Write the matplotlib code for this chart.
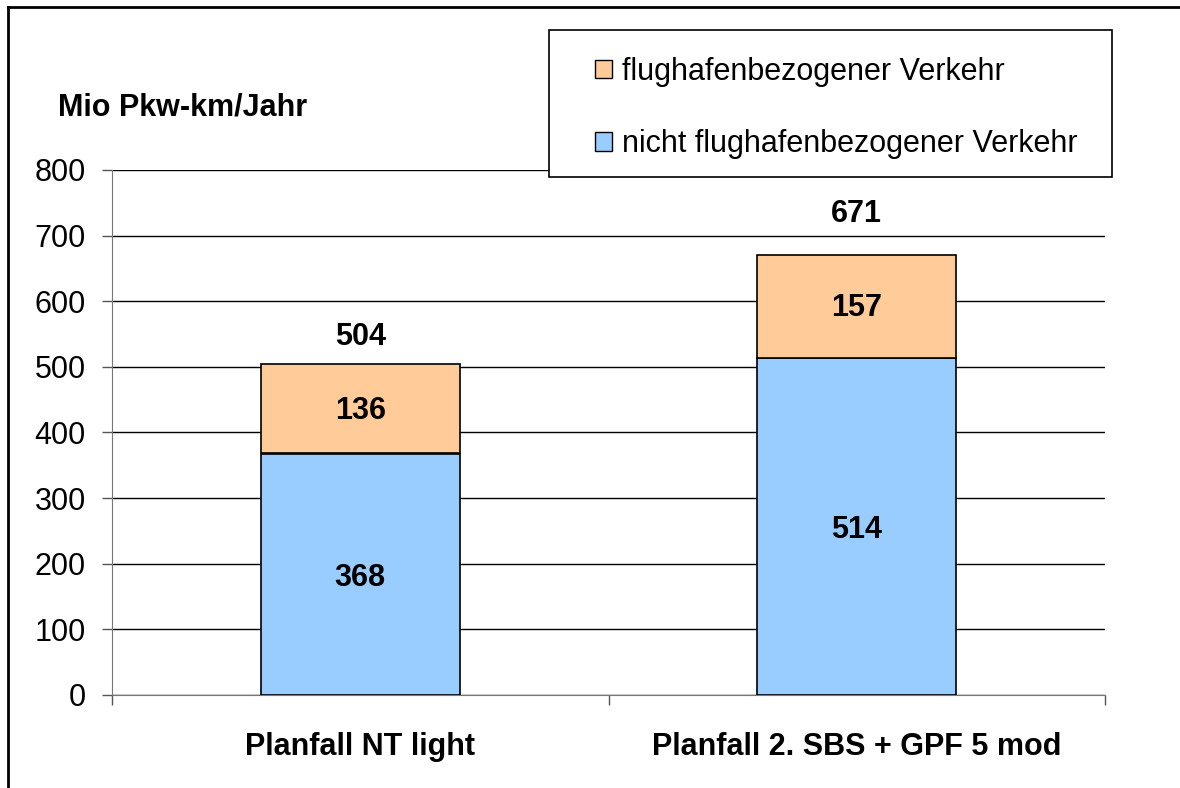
import matplotlib.pyplot as plt
from matplotlib.patches import Rectangle
from matplotlib.lines import Line2D

plt.rcParams['font.family'] = ['Liberation Sans', 'DejaVu Sans']

categories = ['Planfall NT light', 'Planfall 2. SBS + GPF 5 mod']
nicht_flughafen = [368, 514]
flughafen = [136, 157]
totals = [504, 671]
series_names = ['flughafenbezogener Verkehr', 'nicht flughafenbezogener Verkehr']
yticks = [0, 100, 200, 300, 400, 500, 600, 700, 800]

blue = '#99CCFF'
orange = '#FFCC99'

fig = plt.figure(figsize=(11.8, 7.88), dpi=100)
ax = fig.add_axes([112 / 1180, 1 - 695 / 788, (1105 - 112) / 1180, (695 - 170) / 788])

x = list(range(len(categories)))
ax.bar(x, nicht_flughafen, width=0.4, color=blue, edgecolor='black', linewidth=1.2, zorder=3)
ax.bar(x, flughafen, width=0.4, bottom=nicht_flughafen, color=orange, edgecolor='black',
       linewidth=1.2, zorder=3)

total_offsets = [42, 62]
for i in x:
    ax.text(i, nicht_flughafen[i] / 2 - 5, str(nicht_flughafen[i]), ha='center', va='center',
            fontsize=22, fontweight='bold', zorder=4)
    ax.text(i, nicht_flughafen[i] + flughafen[i] / 2 - 3, str(flughafen[i]), ha='center',
            va='center', fontsize=22, fontweight='bold', zorder=4)
    ax.text(i, totals[i] + total_offsets[i], str(totals[i]), ha='center', va='center',
            fontsize=22, fontweight='bold', zorder=4)

ax.set_xlim(-0.5, 1.5)
ax.set_ylim(0, 800)
ax.set_yticks(yticks)
ax.tick_params(axis='y', labelsize=22, length=7, width=1, color='#555555', pad=12)
ax.yaxis.grid(True, color='black', linewidth=1, zorder=0)

# category labels between boundary ticks
ax.set_xticks([-0.5, 0.5, 1.5])
ax.set_xticklabels([])
ax.tick_params(axis='x', length=7, width=1, color='#555555')
for i, c in enumerate(categories):
    ax.text(i, -0.07, c, transform=ax.get_xaxis_transform(), ha='center', va='top',
            fontsize=22, fontweight='bold')

for s in ['top', 'right']:
    ax.spines[s].set_visible(False)
ax.spines['left'].set_color('#777777')
ax.spines['bottom'].set_color('#777777')

fig.text(58 / 1180, 1 - 107 / 788, 'Mio Pkw-km/Jahr', ha='left', va='center',
         fontsize=22, fontweight='bold')

# legend box
fig.patches.append(Rectangle((549 / 1180, 1 - 177 / 788), 563 / 1180, 147 / 788,
                             transform=fig.transFigure, facecolor='white',
                             edgecolor='black', linewidth=1.2))
handles = [Rectangle((0, 0), 1, 1, facecolor=orange, edgecolor='black'),
           Rectangle((0, 0), 1, 1, facecolor=blue, edgecolor='black')]
fig.legend(handles, series_names, loc='center left',
           bbox_to_anchor=(595 / 1180, 1 - 108 / 788), frameon=False, fontsize=22,
           handlelength=0.55, handleheight=0.55, handletextpad=0.35, labelspacing=1.4,
           borderpad=0, borderaxespad=0)

# outer frame lines (top and left)
fig.lines.append(Line2D([8 / 1180, 1], [1 - 7 / 788, 1 - 7 / 788], transform=fig.transFigure,
                        color='black', linewidth=2))
fig.lines.append(Line2D([8 / 1180, 8 / 1180], [0, 1 - 7 / 788], transform=fig.transFigure,
                        color='black', linewidth=2))

fig.savefig('out.png', dpi=100)
